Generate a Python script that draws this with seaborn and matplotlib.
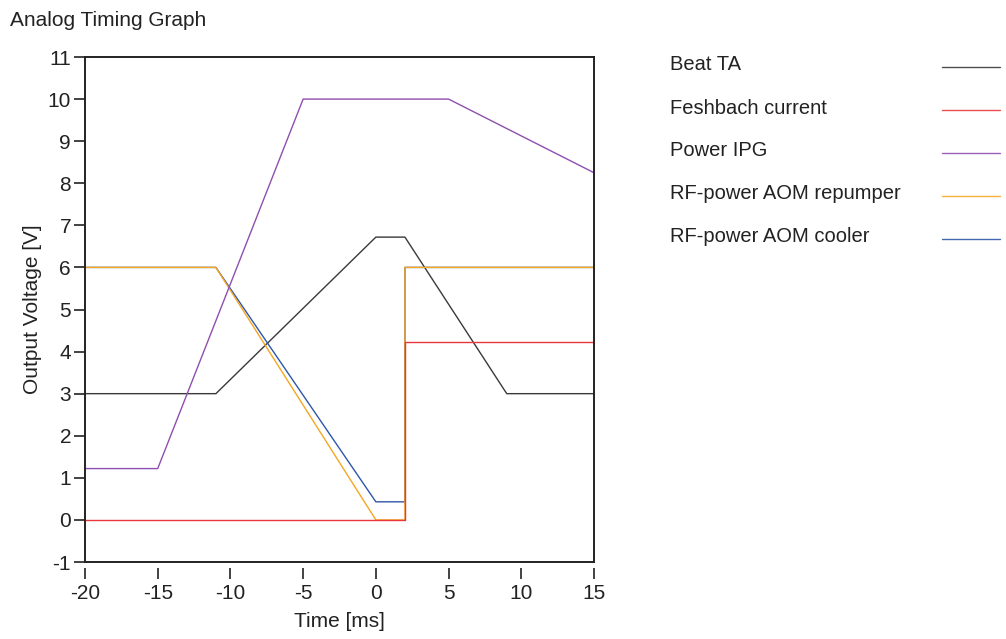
import numpy as np
import pandas as pd
import matplotlib
matplotlib.use("Agg")
import matplotlib.pyplot as plt
from matplotlib.lines import Line2D
import seaborn as sns

# ---- data ----
series_names = ["Beat TA", "Feshbach current", "Power IPG",
                "RF-power AOM repumper", "RF-power AOM cooler"]

beat_t = [-20, -11, 0, 2, 9, 15]
beat_v = [3.0, 3.0, 6.72, 6.72, 3.0, 3.0]

fesh_t = [-20, 2, 2, 15]
fesh_v = [0.0, 0.0, 4.22, 4.22]

ipg_t = [-20, -15, -5, 5, 15]
ipg_v = [1.22, 1.22, 10.0, 10.0, 8.25]

rep_t = [-20, -11, 0, 2, 2, 15]
rep_v = [6.0, 6.0, 0.0, 0.0, 6.0, 6.0]

cool_t = [-20, -11, 0, 2, 2, 15]
cool_v = [6.0, 6.0, 0.43, 0.43, 6.0, 6.0]

x_ticks = [-20, -15, -10, -5, 0, 5, 10, 15]
y_ticks = list(range(-1, 12))

colors = {
    "Beat TA": "#3a3a3a",
    "Feshbach current": "#e8383d",
    "Power IPG": "#8e4fb0",
    "RF-power AOM repumper": "#f5a623",
    "RF-power AOM cooler": "#2f56a8",
}

frames = []
for name, t, v in [("Beat TA", beat_t, beat_v),
                   ("RF-power AOM cooler", cool_t, cool_v),
                   ("RF-power AOM repumper", rep_t, rep_v),
                   ("Power IPG", ipg_t, ipg_v),
                   ("Feshbach current", fesh_t, fesh_v)]:
    frames.append(pd.DataFrame({"t": t, "v": v, "series": name}))
df = pd.concat(frames, ignore_index=True)

sns.set_style("ticks")
plt.rcParams["font.family"] = ["Liberation Sans", "DejaVu Sans"]
plt.rcParams["text.color"] = "#222222"
plt.rcParams["axes.labelcolor"] = "#222222"
plt.rcParams["xtick.color"] = "#222222"
plt.rcParams["ytick.color"] = "#222222"

fig = plt.figure(figsize=(10.06, 6.39), dpi=100)
ax = fig.add_axes([85/1006, 1-562/639, (594-85)/1006, (562-57)/639])

order = ["Beat TA", "RF-power AOM cooler", "RF-power AOM repumper", "Power IPG", "Feshbach current"]
for name in order:
    sub = df[df["series"] == name]
    sns.lineplot(data=sub, x="t", y="v", color=colors[name], sort=False,
                 estimator=None, linewidth=1.0, ax=ax, legend=False)

ax.set_xlim(-20, 15)
ax.set_ylim(-1, 11)
ax.set_xticks(x_ticks)
ax.set_xticklabels([str(x) for x in x_ticks])
ax.set_yticks(y_ticks)
ax.set_yticklabels([str(y) for y in y_ticks])
ax.tick_params(axis="both", labelsize=15, length=8, width=1.2, direction="out")
ax.tick_params(axis="y", pad=2)
ax.tick_params(axis="x", pad=4)
for s in ["left", "top", "right"]:
    ax.spines[s].set_linewidth(1.4)
    ax.spines[s].set_color("#222222")
# detached x ticks: move bottom spine outward & hide it, draw frame bottom separately
ax.spines["bottom"].set_position(("outward", 4))
ax.spines["bottom"].set_visible(False)
ax.plot([0, 1], [0, 0], transform=ax.transAxes, color="#222222", lw=1.4, clip_on=False)

ax.set_xlabel("Time [ms]", fontsize=15, labelpad=6)
ax.set_ylabel("Output Voltage [V]", fontsize=15, labelpad=4)

fig.text(10/1006, 1-20/639, "Analog Timing Graph", fontsize=15, ha="left", va="center")

# legend drawn manually (labels left, line samples on right)
leg_y0 = 65
leg_dy = 43.0
for i, name in enumerate(series_names):
    yy = 1 - (leg_y0 + i*leg_dy)/639
    fig.text(670/1006, yy, name, fontsize=14.5, ha="left", va="center")
    fig.add_artist(Line2D([942/1006, 1000/1006], [yy - 1.5/639, yy - 1.5/639],
                          color=colors[name], lw=1.0, alpha=0.9))

fig.savefig("out.png", dpi=100)
